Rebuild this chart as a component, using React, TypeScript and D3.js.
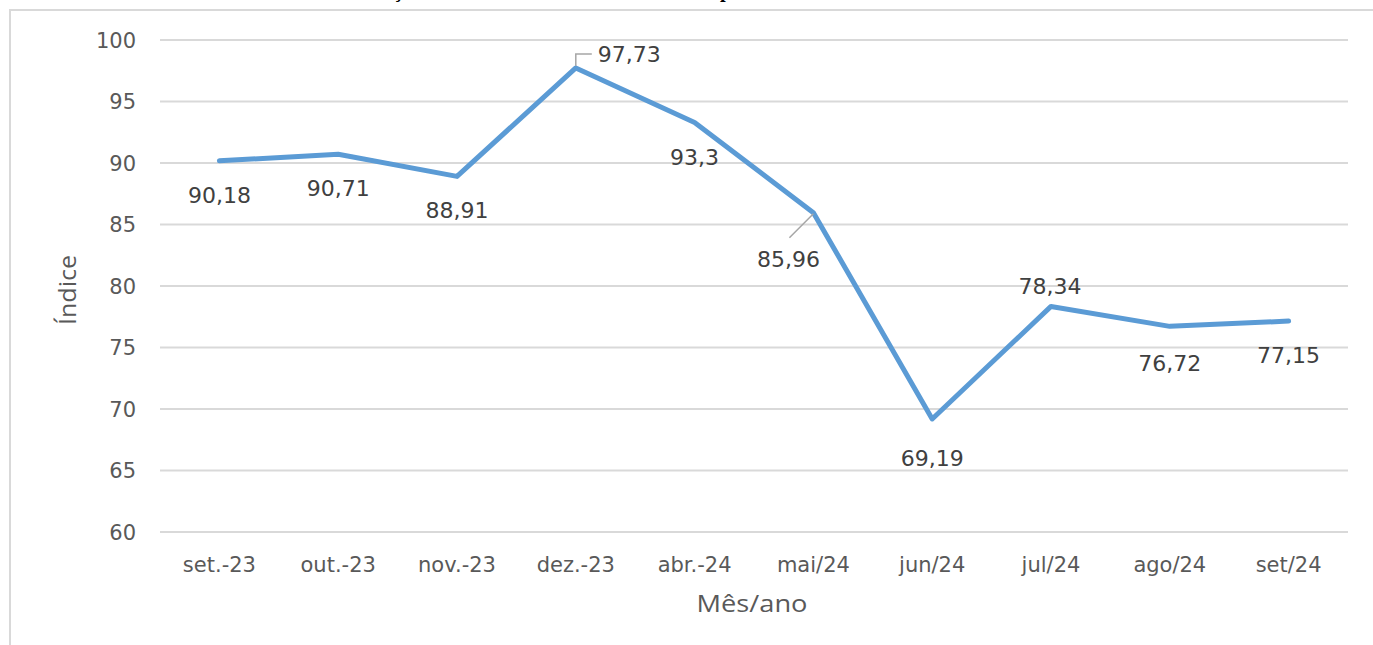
import React from 'react';
import * as d3 from 'd3';

const months = ['set.-23', 'out.-23', 'nov.-23', 'dez.-23', 'abr.-24', 'mai/24', 'jun/24', 'jul/24', 'ago/24', 'set/24'];
const indexValues = [90.18, 90.71, 88.91, 97.73, 93.3, 85.96, 69.19, 78.34, 76.72, 77.15];
const yTicks = [60, 65, 70, 75, 80, 85, 90, 95, 100];

// label placement relative to each point (dx, dy, anchor)
const labelPlace: [number, number, string][] = [
  [0, 42, 'middle'], [0, 42, 'middle'], [0, 42, 'middle'], [22, -6, 'start'],
  [0, 43, 'middle'], [-25, 54, 'middle'], [0, 47, 'middle'], [-1, -12, 'middle'],
  [0, 45, 'middle'], [0, 42, 'middle'],
];

const W = 1373;
const H = 645;
const margin = { left: 160, right: 25, top: 40, bottom: 113 };
const font = '"DejaVu Sans", sans-serif';
const narrow = '"Open Sans", sans-serif';

export default function App() {
  const x = d3.scaleBand<string>().domain(months).range([margin.left, W - margin.right]);
  const y = d3.scaleLinear().domain([60, 100]).range([H - margin.bottom, margin.top]);
  const cx = (m: string) => (x(m) as number) + x.bandwidth() / 2;

  const line = d3.line<number>()
    .x((_, i) => cx(months[i]))
    .y(d => y(d));

  const fmt = (v: number) => String(v).replace('.', ',');

  const peak = 3;
  const px = cx(months[peak]);
  const py = y(indexValues[peak]);
  const mai = 5;
  const mx = cx(months[mai]);
  const my = y(indexValues[mai]);

  return (
    <svg width={W} height={H} style={{ position: 'absolute', left: 0, top: 0, background: '#fff' }}>
      <text x={342} y={-3} fontFamily='"Liberation Serif", serif' fontWeight="bold" fontSize={20.5} fill="#000">
        Evolução mensal do Índice Geral de Desempenho
      </text>
      {/* chart frame */}
      <path d={`M10,${H} L10,10 L${W},10`} fill="none" stroke="#d9d9d9" strokeWidth={2} />

      {yTicks.map(t => (
        <g key={t}>
          <line x1={margin.left} x2={W - margin.right} y1={y(t)} y2={y(t)} stroke="#d9d9d9" strokeWidth={2} />
          <text x={136} y={y(t)} dy="0.36em" textAnchor="end" fontFamily={font} fontSize={21} fill="#595959">{t}</text>
        </g>
      ))}

      {months.map(m => (
        <text key={m} x={cx(m)} y={572} textAnchor="middle" fontFamily={font} fontSize={21} fill="#595959">{m}</text>
      ))}

      <text x={752} y={612} textAnchor="middle" fontFamily={narrow} fontSize={24} textLength={111} lengthAdjust="spacingAndGlyphs" fill="#595959">Mês/ano</text>
      <text transform="translate(76,290) rotate(-90)" textAnchor="middle" fontFamily={narrow} fontSize={24} textLength={70} lengthAdjust="spacingAndGlyphs" fill="#595959">Índice</text>

      <path d={line(indexValues) ?? ''} fill="none" stroke="#5b9bd5" strokeWidth={5} strokeLinejoin="round" strokeLinecap="round" />

      {/* leader lines */}
      <path d={`M${px},${py - 2} L${px},${py - 14} L${px + 16},${py - 14}`} fill="none" stroke="#a6a6a6" strokeWidth={1.5} />
      <line x1={mx} y1={my + 1} x2={mx - 24} y2={my + 25} stroke="#a6a6a6" strokeWidth={1.5} />

      {indexValues.map((v, i) => (
        <text key={i} x={cx(months[i]) + labelPlace[i][0]} y={y(v) + labelPlace[i][1]}
          textAnchor={labelPlace[i][2]} fontFamily={font} fontSize={22} fill="#404040">{fmt(v)}</text>
      ))}
    </svg>
  );
}
